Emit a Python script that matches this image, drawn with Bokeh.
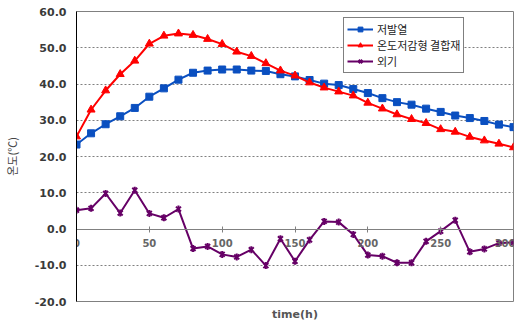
from bokeh.plotting import figure
from bokeh.models import (LinearAxis, FixedTicker, NumeralTickFormatter, Range1d,
                          Legend, LegendItem, Title)
from bokeh.embed import file_html
from bokeh.resources import INLINE

hours = list(range(0, 301, 10))
low_heat = [23.3, 26.4, 28.9, 31.1, 33.4, 36.5, 38.8, 41.2, 43.1, 43.7, 44.0,
            44.0, 43.7, 43.6, 42.7, 42.1, 41.1, 40.1, 39.7, 38.6, 37.5,
            36.1, 35.0, 34.3, 33.2, 32.3, 31.3, 30.6, 29.8, 28.8, 28.1]
reduced = [25.5, 32.9, 38.2, 42.7, 46.4, 51.1, 53.3, 53.9, 53.5, 52.4, 51.0,
           48.9, 47.7, 45.7, 43.7, 42.3, 40.4, 39.0, 37.9, 36.8, 34.8,
           33.2, 31.6, 30.3, 29.2, 27.5, 26.8, 25.4, 24.4, 23.5, 22.5]
outside = [5.2, 5.7, 9.8, 4.4, 10.7, 4.3, 3.1, 5.5, -5.4, -4.8, -7.0,
           -7.7, -5.7, -10.1, -2.7, -8.9, -3.0, 2.1, 1.9, -1.5, -7.2,
           -7.5, -9.3, -9.3, -3.4, -0.6, 2.4, -6.3, -5.5, -3.9, -3.7]
series_names = ["저발열", "온도저감형 결합재", "외기"]
x_ticks = [0, 50, 100, 150, 200, 250, 300]
y_ticks = [-20, -10, 0, 10, 20, 30, 40, 50, 60]

p = figure(width=515, height=324, output_backend="svg", toolbar_location=None,
           x_range=Range1d(0, 300), y_range=Range1d(-20, 60),
           x_axis_location=None, y_axis_location=None,
           min_border_left=68, min_border_right=2, min_border_top=11,
           min_border_bottom=10)
p.background_fill_color = "white"
p.border_fill_color = "white"
p.outline_line_color = "#808080"
p.outline_line_width = 1

yaxis = LinearAxis(ticker=FixedTicker(ticks=y_ticks),
                   formatter=NumeralTickFormatter(format="0.0"),
                   axis_label="온도(℃)")
yaxis.axis_line_color = "black"
yaxis.major_tick_in = 0
yaxis.major_tick_out = 0
yaxis.minor_tick_line_color = None
yaxis.major_label_text_font = "DejaVu Sans"
yaxis.major_label_text_font_style = "bold"
yaxis.major_label_text_font_size = "11px"
yaxis.major_label_text_color = "#3a3a3a"
yaxis.major_label_standoff = 10
yaxis.axis_label_text_font = "Noto Sans CJK KR"
yaxis.axis_label_text_font_style = "normal"
yaxis.axis_label_text_font_size = "11px"
yaxis.axis_label_text_color = "#444444"
yaxis.axis_label_standoff = 12
p.add_layout(yaxis, "left")

xaxis = LinearAxis(ticker=FixedTicker(ticks=x_ticks), fixed_location=0)
xaxis.axis_line_color = "#808080"
xaxis.major_tick_line_color = "#808080"
xaxis.major_tick_in = 3
xaxis.major_tick_out = 3
xaxis.minor_tick_line_color = None
xaxis.major_label_text_font = "DejaVu Sans"
xaxis.major_label_text_font_style = "bold"
xaxis.major_label_text_font_size = "10px"
xaxis.major_label_text_color = "#666666"
xaxis.major_label_standoff = 7
p.add_layout(xaxis, "below")

p.add_layout(Title(text="time(h)", align="center", text_font="DejaVu Sans",
                   text_font_size="11px", text_font_style="bold",
                   text_color="#555555", standoff=8), "below")

p.ygrid.ticker = FixedTicker(ticks=y_ticks)
p.ygrid.grid_line_color = "#808080"
p.ygrid.grid_line_dash = "2 2"
p.xgrid.grid_line_color = None

blue = "#0a4fc0"
red = "#ff0000"
purple = "#660066"

l1 = p.line(hours, low_heat, line_color=blue, line_width=2)
m1 = p.scatter(hours, low_heat, marker="square", size=7, fill_color=blue, line_color=blue)
l2 = p.line(hours, reduced, line_color=red, line_width=2)
m2 = p.scatter(hours, reduced, marker="triangle", size=8, fill_color=red, line_color=red)
l3 = p.line(hours, outside, line_color=purple, line_width=2)
m3 = p.scatter(hours, outside, marker="x", size=7, line_color=purple, line_width=2)
m3b = p.scatter(hours, outside, marker="dash", angle=1.5708, size=7, line_color=purple, line_width=2)

legend = Legend(items=[LegendItem(label=series_names[0], renderers=[l1, m1]),
                       LegendItem(label=series_names[1], renderers=[l2, m2]),
                       LegendItem(label=series_names[2], renderers=[l3, m3, m3b])],
                location=(267, 228))
legend.border_line_color = "black"
legend.border_line_width = 1
legend.background_fill_color = "white"
legend.background_fill_alpha = 1
legend.label_text_font = "Noto Sans CJK KR"
legend.label_text_font_size = "11px"
legend.label_text_color = "#222222"
legend.glyph_width = 26
legend.glyph_height = 12
legend.label_height = 12
legend.label_standoff = 4
legend.spacing = 0
legend.padding = 3
legend.margin = 0
p.add_layout(legend, "center")

open("out.html", "w").write(file_html(p, INLINE))
